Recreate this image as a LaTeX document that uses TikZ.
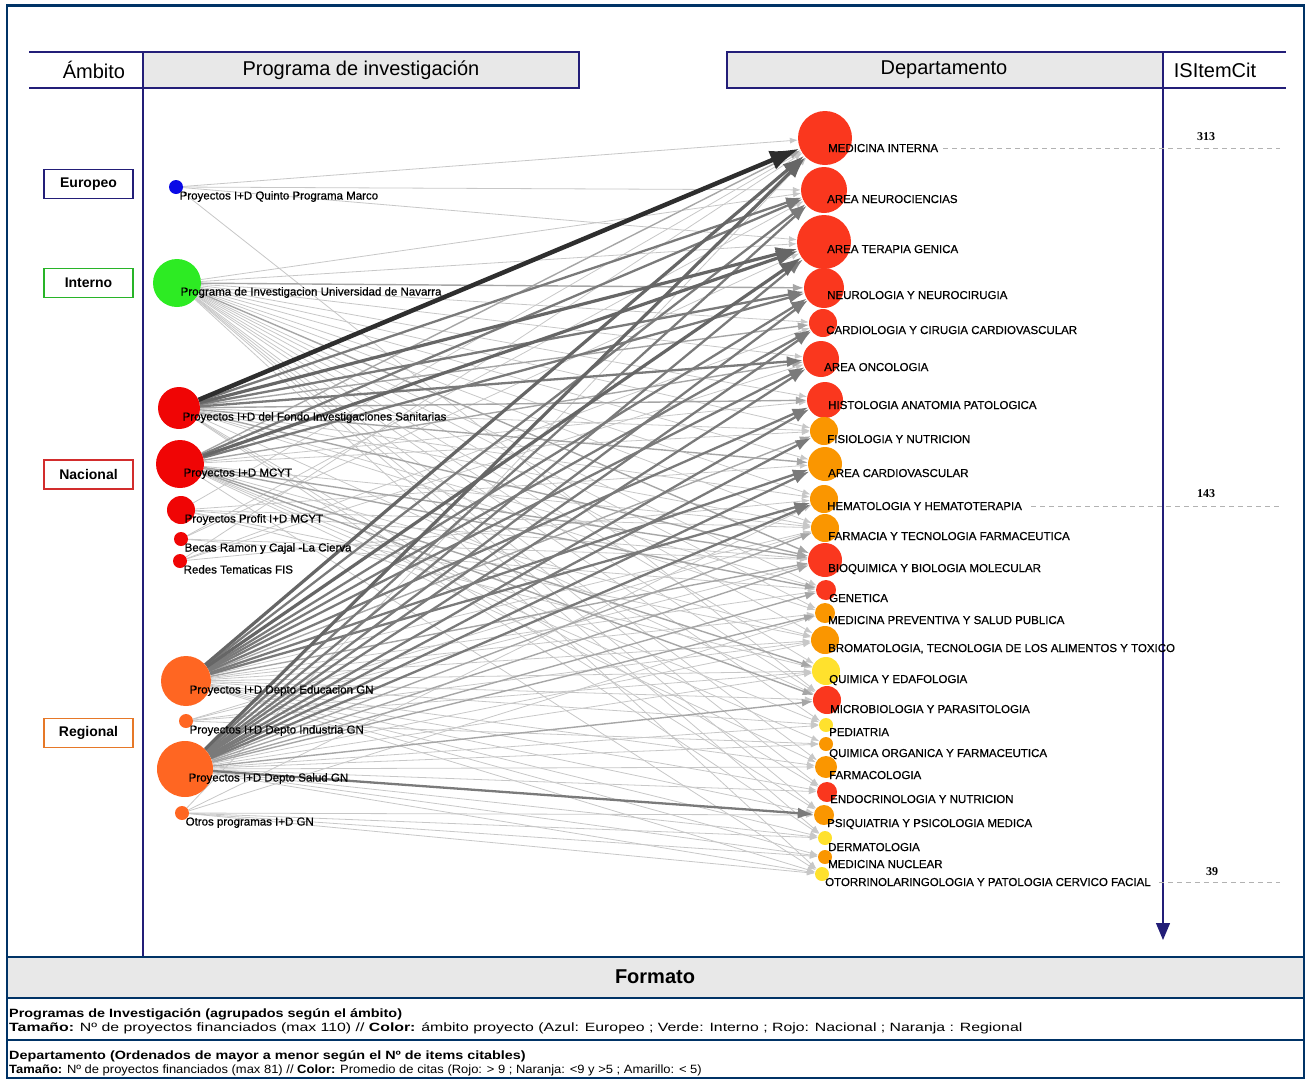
\documentclass[tikz,border=0pt]{standalone}
\usepackage{fontspec}
\setmainfont{Liberation Sans}
\newfontfamily\citfont{Liberation Serif}
\newfontfamily\etiqfont{Liberation Sans}[FakeBold=0.6]
\newfontfamily\leyfont{Liberation Sans}[FakeStretch=1.2]
\usetikzlibrary{arrows.meta,backgrounds}

\definecolor{marco}{RGB}{0,51,102}
\definecolor{linea}{RGB}{35,30,120}
\definecolor{gris}{RGB}{232,232,232}
\definecolor{azul}{RGB}{10,10,230}
\definecolor{verde}{RGB}{45,235,35}
\definecolor{rojo}{RGB}{240,5,5}
\definecolor{naranja}{RGB}{255,102,34}
\definecolor{drojo}{RGB}{250,55,30}
\definecolor{dnaranja}{RGB}{250,150,0}
\definecolor{damarillo}{RGB}{255,225,45}
\definecolor{bordeint}{RGB}{40,180,40}
\definecolor{bordenac}{RGB}{210,45,45}
\definecolor{bordereg}{RGB}{230,120,40}

\tikzset{
  bola/.style={circle, inner sep=0pt, minimum size=#1},
  etiq/.style={anchor=base west, inner sep=0pt, font=\etiqfont\fontsize{11.5}{13}\selectfont},
  cabtxt/.style={font=\fontsize{20}{22}\selectfont},
  ambito/.style={draw=#1, line width=1.2pt, minimum width=89pt, minimum height=29pt,
    font=\bfseries\fontsize{14}{16}\selectfont},
  cita/.style={font=\citfont\bfseries\fontsize{12}{14}\selectfont},
  guia/.style={black!30, dashed, dash pattern=on 5pt off 4pt, line width=0.7pt},
  leyenda/.style={anchor=base west, inner sep=0pt, font=\leyfont\fontsize{12}{14}\selectfont},
  flujoA/.style={black!22, line width=0.8pt, -{Latex[length=8pt,width=6pt]}},
  flujoB/.style={black!35, line width=1.4pt, -{Latex[length=11pt,width=8pt]}},
  flujoC/.style={black!52, line width=2.3pt, -{Latex[length=16pt,width=11pt]}},
  flujoD/.style={black!60, line width=3.2pt, -{Latex[length=22pt,width=15pt]}},
  flujoE/.style={black!82, line width=4.5pt, -{Latex[length=30pt,width=20pt]}},
}

\begin{document}
\begin{tikzpicture}[x=1pt, y=-1pt]
  \useasboundingbox (0,0) rectangle (1309,1082);

  % Cabeceras
  \draw[linea, line width=1.2pt] (29,52) -- (143,52) (29,88) -- (143,88);
  \draw[linea, line width=1.2pt, fill=gris] (143,52) rectangle (579,88);
  \draw[linea, line width=1.2pt, fill=gris] (727,52) rectangle (1163,88);
  \draw[linea, line width=1.2pt] (1163,52) -- (1286,52) (1163,88) -- (1286,88);
  \draw[linea, line width=1.2pt] (143,88) -- (143,957);
  \node[cabtxt] (hambito) at (94,70) {Ámbito};
  \node[cabtxt] (hprograma) at (361,70) {Programa de investigación};
  \node[cabtxt] (hdepto) at (944,70) {Departamento};
  \node[cabtxt] (hcit) at (1215,70) {ISItemCit};

  % Eje de items citables
  \coordinate (ejetop) at (1163,88);
  \coordinate (ejefin) at (1163,940);
  \draw[linea, line width=1.2pt, -{Triangle[length=17pt,width=14pt]}] (ejetop) -- (ejefin);

  % Ambitos
  \node[ambito=linea] (europeo) at (88.5,184) {Europeo};
  \node[ambito=bordeint] (interno) at (88.5,283) {Interno};
  \node[ambito=bordenac] (nacional) at (88.5,474.5) {Nacional};
  \node[ambito=bordereg] (regional) at (88.5,733) {Regional};

  % Programas de investigacion
  \foreach \n/\x/\y/\r/\c/\t in {
      qpm/176/187/7/azul/{Proyectos I+D Quinto Programa Marco},
      unav/177/283/24/verde/{Programa de Investigacion Universidad de Navarra},
      fis/179/408/21/rojo/{Proyectos I+D del Fondo Investigaciones Sanitarias},
      mcyt/180/464/24/rojo/{Proyectos I+D MCYT},
      profit/181/510/14/rojo/{Proyectos Profit I+D MCYT},
      becas/181/539/7/rojo/{Becas Ramon y Cajal -La Cierva},
      redes/180/561/7/rojo/{Redes Tematicas FIS},
      educ/186/681/25/naranja/{Proyectos I+D Depto Educacion GN},
      indus/186/721/7/naranja/{Proyectos I+D Depto Industria GN},
      salud/185/769/28/naranja/{Proyectos I+D Depto Salud GN},
      otros/182/813/7/naranja/{Otros programas I+D GN}}
  {
    \node[bola={\r*2pt}, fill=\c] (\n) at (\x,\y) {};
    \node[etiq] (\n-lbl) at (\x+3.5,\y+12.5) {\t};
  }

  % Departamentos
  \foreach \n/\x/\y/\r/\c/\ly/\t in {
      medint/825/138/27/drojo/148/{MEDICINA INTERNA},
      neuro/824/190/23/drojo/199/{AREA NEUROCIENCIAS},
      terap/824/242/27/drojo/249/{AREA TERAPIA GENICA},
      neurol/824/288/20/drojo/295/{NEUROLOGIA Y NEUROCIRUGIA},
      cardio/823/323/14/drojo/330/{CARDIOLOGIA Y CIRUGIA CARDIOVASCULAR},
      onco/821/359/18/drojo/367/{AREA ONCOLOGIA},
      histo/825/400/18/drojo/405/{HISTOLOGIA ANATOMIA PATOLOGICA},
      fisio/824/431/14/dnaranja/439/{FISIOLOGIA Y NUTRICION},
      acardio/825/464/17/dnaranja/473/{AREA CARDIOVASCULAR},
      hemato/824/499/14/dnaranja/506/{HEMATOLOGIA Y HEMATOTERAPIA},
      farmacia/825/528/14/dnaranja/536/{FARMACIA Y TECNOLOGIA FARMACEUTICA},
      bioq/825/560/17/drojo/568/{BIOQUIMICA Y BIOLOGIA MOLECULAR},
      genet/826/590/10/drojo/598/{GENETICA},
      medprev/825/613/10/dnaranja/620/{MEDICINA PREVENTIVA Y SALUD PUBLICA},
      broma/825/640/14/dnaranja/648/{BROMATOLOGIA, TECNOLOGIA DE LOS ALIMENTOS Y TOXICO},
      quimed/826/671/14/damarillo/679/{QUIMICA Y EDAFOLOGIA},
      micro/827/700/14/drojo/709/{MICROBIOLOGIA Y PARASITOLOGIA},
      pedia/826/725/7/damarillo/732/{PEDIATRIA},
      quimorg/826/744/7/dnaranja/753/{QUIMICA ORGANICA Y FARMACEUTICA},
      farmaco/826/767/11/dnaranja/775/{FARMACOLOGIA},
      endo/827/792/10/drojo/799/{ENDOCRINOLOGIA Y NUTRICION},
      psiq/824/815/10/dnaranja/823/{PSIQUIATRIA Y PSICOLOGIA MEDICA},
      derma/825/838/7/damarillo/847/{DERMATOLOGIA},
      mednuc/825/857/7/dnaranja/864/{MEDICINA NUCLEAR},
      otorr/822/874/7/damarillo/882/{OTORRINOLARINGOLOGIA Y PATOLOGIA CERVICO FACIAL}}
  {
    \node[bola={\r*2pt}, fill=\c] (\n) at (\x,\y) {};
    \node[etiq] (\n-lbl) at (\x+3,\ly+4) {\t};
  }

  % Flujos programa -> departamento
  \begin{scope}[on background layer]
    \foreach \a/\b in {qpm/medint, qpm/neuro, qpm/terap, qpm/micro,
        unav/neuro, unav/terap, unav/cardio, unav/onco, unav/histo, unav/fisio,
        unav/acardio, unav/hemato, unav/farmacia, unav/genet, unav/medprev,
        unav/broma, unav/quimed, unav/micro, unav/pedia, unav/farmaco, unav/endo,
        unav/psiq, unav/derma, unav/otorr,
        fis/fisio, fis/farmacia, fis/hemato, fis/genet, fis/micro, fis/endo,
        fis/psiq, fis/derma, fis/medprev,
        mcyt/farmacia, mcyt/broma, mcyt/quimorg, mcyt/farmaco, mcyt/histo,
        mcyt/pedia, mcyt/otorr, mcyt/fisio,
        profit/medint, profit/acardio, profit/farmacia, profit/bioq, profit/broma, profit/quimed,
        becas/neuro, becas/terap, becas/bioq, becas/genet,
        redes/medint, redes/cardio, redes/onco, redes/hemato,
        educ/farmacia, educ/genet, educ/medprev, educ/broma, educ/quimed, educ/micro,
        educ/farmaco, educ/endo, educ/psiq, educ/pedia, educ/derma, educ/mednuc, educ/otorr,
        indus/farmacia, indus/broma, indus/quimed, indus/quimorg, indus/bioq,
        salud/broma, salud/quimed, salud/pedia, salud/quimorg, salud/farmaco,
        salud/endo, salud/derma, salud/mednuc, salud/otorr,
        otros/medint, otros/hemato, otros/medprev, otros/psiq, otros/derma,
        otros/mednuc, otros/otorr}
      \draw[flujoA] (\a) -- (\b);
    \foreach \a/\b in {unav/neurol, unav/bioq, fis/histo, fis/bioq, fis/cardio,
        fis/acardio, mcyt/medint, mcyt/onco, mcyt/genet, mcyt/quimed, mcyt/micro,
        mcyt/bioq, educ/fisio, educ/bioq, salud/farmacia, salud/bioq,
        salud/genet, salud/medprev, salud/micro}
      \draw[flujoB] (\a) -- (\b);
    \foreach \a/\b in {fis/neurol, fis/neuro, fis/onco, mcyt/neuro, mcyt/neurol,
        educ/neuro, educ/neurol, educ/onco, educ/histo, educ/acardio, educ/cardio,
        educ/hemato, salud/neuro, salud/terap, salud/neurol, salud/onco, salud/histo,
        salud/acardio, salud/cardio, salud/fisio, salud/hemato, salud/psiq}
      \draw[flujoC] (\a) -- (\b);
    \foreach \a/\b in {fis/terap, mcyt/terap, educ/medint, educ/terap, salud/medint}
      \draw[flujoD] (\a) -- (\b);
    \draw[flujoE] (fis) -- (medint);
  \end{scope}

  % Valores de ISItemCit
  \coordinate (guiafin) at (1280,0);
  \node[cita] (c313) at (1206,137) {313};
  \node[cita] (c143) at (1206,494) {143};
  \node[cita] (c39) at (1212,872) {39};
  \draw[guia] ([xshift=5pt]medint-lbl.east) -- (medint-lbl.east -| guiafin);
  \draw[guia] ([xshift=9pt]hemato-lbl.east) -- (hemato-lbl.east -| guiafin);
  \draw[guia] ([xshift=8pt]otorr-lbl.east) -- (otorr-lbl.east -| guiafin);

  % Formato
  \fill[gris] (7,957) rectangle (1304,998);
  \draw[marco, line width=2pt] (7,957) -- (1304,957) (7,998) -- (1304,998) (7,1040) -- (1304,1040);
  \node[font=\bfseries\fontsize{20}{22}\selectfont] (formato) at (655,977) {Formato};
  \node[leyenda] (ley1) at (9,1017) {\bfseries Programas de Investigación (agrupados según el ámbito)};
  \node[leyenda] (ley2) at (9,1031) {\scalebox{1.1}[1]{\textbf{Tamaño:} Nº de proyectos financiados (max 110) // \textbf{Color:} ámbito proyecto (Azul: Europeo ; Verde: Interno ; Rojo: Nacional ; Naranja : Regional}};
  \node[leyenda] (ley3) at (9,1059) {\bfseries Departamento (Ordenados de mayor a menor según el Nº de items citables)};
  \node[leyenda] (ley4) at (9,1073) {\scalebox{0.9}[1]{\textbf{Tamaño:} Nº de proyectos financiados (max 81) // \textbf{Color:} Promedio de citas (Rojo: > 9 ; Naranja: <9 y >5 ; Amarillo: < 5)}};

  % Marco exterior
  \draw[marco, line width=2.5pt] (7,5.5) rectangle (1304,1078);
\end{tikzpicture}
\end{document}
